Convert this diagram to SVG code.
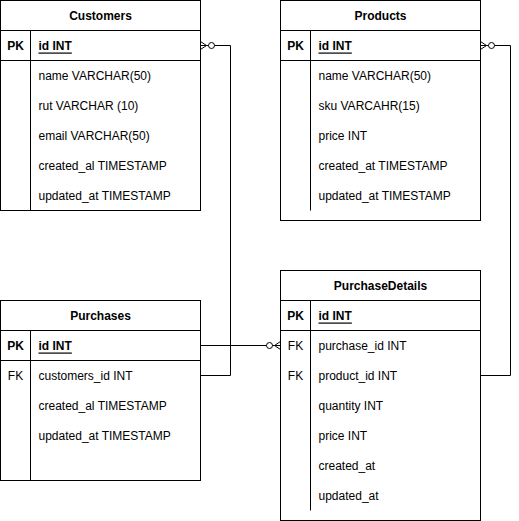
<svg xmlns="http://www.w3.org/2000/svg" width="519" height="521" viewBox="0 0 519 521">
<defs>
<style>
.box{fill:#fff;stroke:#000;stroke-width:1}
.ln{fill:none;stroke:#000;stroke-width:1}
text{font-family:"Liberation Sans",Arial,sans-serif;font-size:12px;fill:#000;dominant-baseline:central}
.t{font-weight:bold;text-anchor:middle}
.k{text-anchor:middle}
.pk{font-weight:bold;text-anchor:middle}
.id{font-weight:bold;text-decoration:underline}
</style>
<marker id="zm" markerUnits="userSpaceOnUse" orient="auto" markerWidth="20" markerHeight="12" refX="16" refY="6" viewBox="0 0 20 12" overflow="visible">
<path d="M10,6 L16,2 M10,6 L16,6 M10,6 L16,10" fill="none" stroke="#000" stroke-width="1"/>
<circle cx="5" cy="6" r="3" fill="#fff" stroke="#000" stroke-width="1"/>
</marker>
</defs>
<rect width="519" height="521" fill="#fff"/>
<g transform="translate(0.5,0.5)">
<g id="connectors">
<path class="ln" d="M200,375 L230,375 L230,45 L200,45" marker-end="url(#zm)"/>
<path class="ln" d="M200,345 L280,345" marker-end="url(#zm)"/>
<path class="ln" d="M480,375 L510,375 L510,45 L480,45" marker-end="url(#zm)"/>
</g>
<g id="customers">
<rect class="box" x="0" y="0" width="200" height="210"/>
<path class="ln" d="M0,30 H200 M0,60 H200 M30,30 V210"/>
<text class="t" x="100" y="15">Customers</text>
<text class="pk" x="15" y="45">PK</text>
<text class="id" x="38" y="45">id INT</text>
<text x="38" y="75">name VARCHAR(50)</text>
<text x="38" y="105">rut VARCHAR (10)</text>
<text x="38" y="135">email VARCHAR(50)</text>
<text x="38" y="165">created_al TIMESTAMP</text>
<text x="38" y="195">updated_at TIMESTAMP</text>
</g>
<g id="products">
<rect class="box" x="280" y="0" width="200" height="220"/>
<path class="ln" d="M280,30 H480 M280,60 H480 M310,30 V210"/>
<text class="t" x="380" y="15">Products</text>
<text class="pk" x="295" y="45">PK</text>
<text class="id" x="318" y="45">id INT</text>
<text x="318" y="75">name VARCHAR(50)</text>
<text x="318" y="105">sku VARCAHR(15)</text>
<text x="318" y="135">price INT</text>
<text x="318" y="165">created_at TIMESTAMP</text>
<text x="318" y="195">updated_at TIMESTAMP</text>
</g>
<g id="purchases">
<rect class="box" x="0" y="300" width="200" height="180"/>
<path class="ln" d="M0,330 H200 M0,360 H200 M30,330 V480"/>
<text class="t" x="100" y="315">Purchases</text>
<text class="pk" x="15" y="345">PK</text>
<text class="id" x="38" y="345">id INT</text>
<text class="k" x="15" y="375">FK</text>
<text x="38" y="375">customers_id INT</text>
<text x="38" y="405">created_al TIMESTAMP</text>
<text x="38" y="435">updated_at TIMESTAMP</text>
</g>
<g id="purchasedetails">
<rect class="box" x="280" y="270" width="200" height="250"/>
<path class="ln" d="M280,300 H480 M280,330 H480 M310,300 V510"/>
<text class="t" x="380" y="285">PurchaseDetails</text>
<text class="pk" x="295" y="315">PK</text>
<text class="id" x="318" y="315">id INT</text>
<text class="k" x="295" y="345">FK</text>
<text x="318" y="345">purchase_id INT</text>
<text class="k" x="295" y="375">FK</text>
<text x="318" y="375">product_id INT</text>
<text x="318" y="405">quantity INT</text>
<text x="318" y="435">price INT</text>
<text x="318" y="465">created_at</text>
<text x="318" y="495">updated_at</text>
</g>
</g>
</svg>
